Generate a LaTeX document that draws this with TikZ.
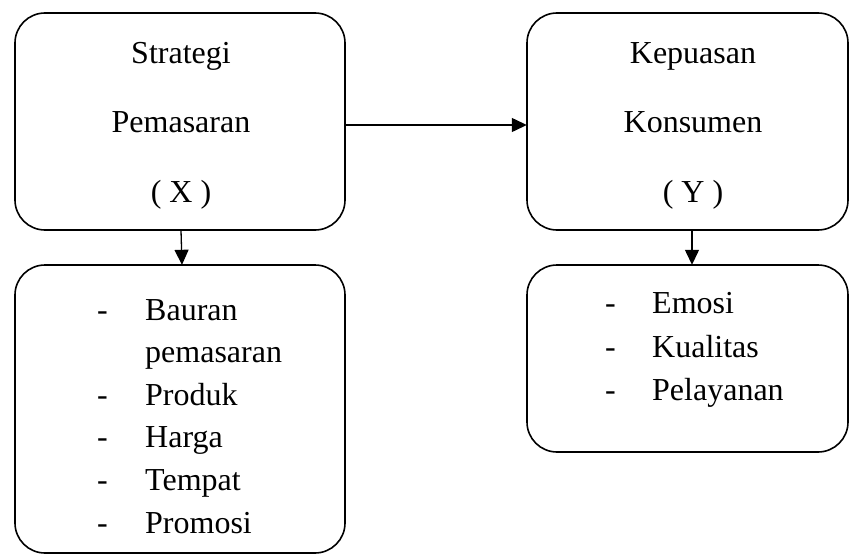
\documentclass[tikz,border=0pt]{standalone}
\usepackage{fontspec}
\setmainfont{Liberation Serif}
\usetikzlibrary{arrows.meta}
\begin{document}
\begin{tikzpicture}[x=1pt,y=-1pt,
  box/.style={draw=black,line width=1.6pt,rounded corners=30pt},
  conn/.style={line width=1.3pt,-{Triangle[length=15pt,width=14pt]}},
  txt/.style={inner sep=0pt,font=\fontsize{32}{38}\selectfont},
  title/.style={txt,anchor=base},
  item/.style={txt,anchor=base west}]
\useasboundingbox (0,0) rectangle (849,554);
% boxes
\draw[box] (15,13) rectangle (345,230);
\node[inner sep=0pt,minimum width=330pt,minimum height=217pt] (A) at (180,121.5) {};
\draw[box] (527,13) rectangle (848,230);
\node[inner sep=0pt,minimum width=321pt,minimum height=217pt] (C) at (687.5,121.5) {};
\draw[box] (15,265) rectangle (345,553);
\node[inner sep=0pt,minimum width=330pt,minimum height=288pt] (B) at (180,409) {};
\draw[box] (527,265) rectangle (848,452);
\node[inner sep=0pt,minimum width=321pt,minimum height=187pt] (D) at (687.5,358.5) {};
% titles
\node[title] (a1) at (181,63) {Strategi};
\node[title] (a2) at (181,132) {Pemasaran};
\node[title] (a3) at (181,202) {( X )};
\node[title] (c1) at (693,63) {Kepuasan};
\node[title] (c2) at (693,132) {Konsumen};
\node[title] (c3) at (693,202) {( Y )};
% list left
\foreach \t/\y [count=\i] in {Bauran/320,Produk/405,Harga/447,Tempat/490,Promosi/533}{
  \node[item] (bd\i) at (97,\y) {-};
  \node[item] (bt\i) at (145,\y) {\t};
}
\node[item] (bt0) at (145,362) {pemasaran};
% list right
\foreach \t/\y [count=\i] in {Emosi/313,Kualitas/357,Pelayanan/400}{
  \node[item] (dd\i) at (605,\y) {-};
  \node[item] (dt\i) at (652,\y) {\t};
}
% connectors
\draw[conn] (A.east |- 0,125) -- (C.west |- 0,125);
\draw[conn] (A.south -| 181,0) -- (B.north -| 182,0);
\draw[conn] (C.south -| 692,0) -- (D.north -| 692,0);
\end{tikzpicture}
\end{document}
